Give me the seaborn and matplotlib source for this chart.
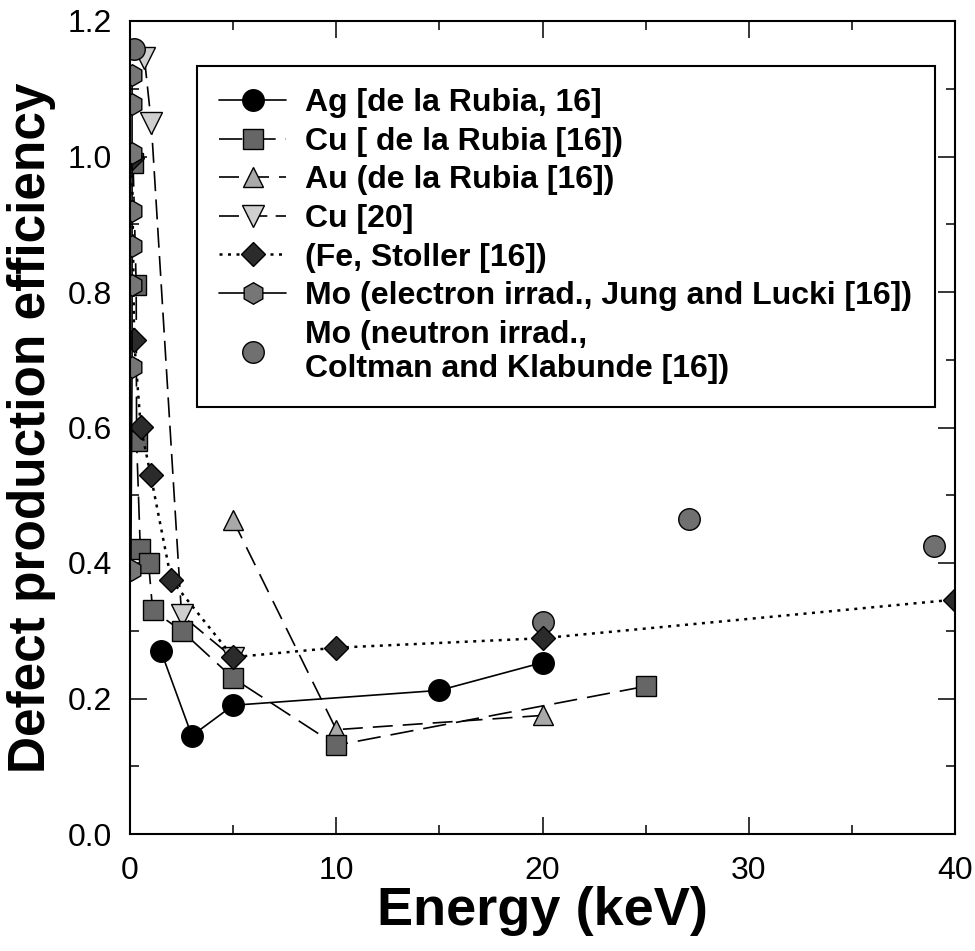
import matplotlib
matplotlib.use("Agg")
import matplotlib.pyplot as plt
from matplotlib.ticker import MultipleLocator
import seaborn as sns
import pandas as pd

# ---- data ----
ag_x = [1.5, 3.0, 5.0, 15.0, 20.0]
ag_y = [0.27, 0.145, 0.19, 0.212, 0.253]

cu_x = [0.15, 0.30, 0.32, 0.50, 0.90, 1.10, 2.5, 5.0, 10.0, 25.0]
cu_y = [0.99, 0.81, 0.58, 0.42, 0.40, 0.33, 0.30, 0.23, 0.131, 0.218]

au_x = [5.0, 10.0, 20.0]
au_y = [0.463, 0.154, 0.175]

cu20_x = [0.70, 1.03, 2.5, 5.0]
cu20_y = [1.145, 1.05, 0.323, 0.26]

fe_x = [0.10, 0.20, 0.52, 1.0, 2.0, 5.0, 10.0, 20.0, 40.0]
fe_y = [0.998, 0.729, 0.601, 0.530, 0.375, 0.261, 0.275, 0.289, 0.346]

moe_x = [0.10, 0.10, 0.10, 0.10, 0.10, 0.10, 0.10, 0.04]
moe_y = [1.120, 1.078, 1.005, 0.919, 0.868, 0.811, 0.690, 0.390]

mon_x = [0.19, 20.0, 27.1, 39.0]
mon_y = [1.158, 0.313, 0.465, 0.425]

labels = [
    "Ag [de la Rubia, 16]",
    "Cu [ de la Rubia [16])",
    "Au (de la Rubia [16])",
    "Cu [20]",
    "(Fe, Stoller [16])",
    "Mo (electron irrad., Jung and Lucki [16])",
    "Mo (neutron irrad.,\nColtman and Klabunde [16])",
]
x_ticks = [0, 10, 20, 30, 40]
y_ticks = [0.0, 0.2, 0.4, 0.6, 0.8, 1.0, 1.2]

sns.set_style("ticks")
plt.rcParams["font.family"] = ["Liberation Sans", "DejaVu Sans"]
plt.rcParams["text.color"] = "black"
plt.rcParams["axes.labelcolor"] = "black"
plt.rcParams["xtick.color"] = "black"
plt.rcParams["ytick.color"] = "black"

fig = plt.figure(figsize=(9.75, 9.51), dpi=100)
ax = fig.add_axes([130 / 975, 117 / 951, 825 / 975, 813 / 951])

LW = 1.2
common = dict(sort=False, estimator=None, ax=ax, markeredgecolor="black",
              markeredgewidth=1.0, linewidth=LW, color="black")

def draw(x, y, label, **kw):
    df = pd.DataFrame({"x": x, "y": y})
    args = dict(common)
    args.update(kw)
    sns.lineplot(data=df, x="x", y="y", label=label, **args)
    return ax.get_lines()[-1]

h = {}
h[2] = draw(au_x, au_y, labels[2], marker="^", markersize=15,
            markerfacecolor="#a9a9a9", linestyle=(0, (12, 6)))
h[3] = draw(cu20_x, cu20_y, labels[3], marker="v", markersize=16,
            markerfacecolor="#cfcfcf", linestyle=(0, (12, 5)))
h[6] = draw(mon_x, mon_y, labels[6], marker="o", markersize=15.5,
            markerfacecolor="#707070", linestyle="none")
h[1] = draw(cu_x, cu_y, labels[1], marker="s", markersize=14,
            markerfacecolor="#666666", linestyle=(0, (14, 6)))
h[4] = draw(fe_x, fe_y, labels[4], marker="D", markersize=12.5,
            markerfacecolor="#2b2b2b", linestyle=(0, (1.2, 2.2)), )
h[5] = draw(moe_x, moe_y, labels[5], marker="h", markersize=15.5,
            markerfacecolor="#767676", linestyle="-")
h[0] = draw(ag_x, ag_y, labels[0], marker="o", markersize=15.5,
            markerfacecolor="black", linestyle="-")

h[4].set_linewidth(1.8)

ax.set_xlim(0, 40)
ax.set_ylim(0, 1.2)
ax.set_xticks(x_ticks)
ax.set_yticks(y_ticks)
ax.set_xticklabels([str(v) for v in x_ticks])
ax.set_yticklabels([f"{v:.1f}" for v in y_ticks])
ax.xaxis.set_minor_locator(MultipleLocator(5))
ax.yaxis.set_minor_locator(MultipleLocator(0.1))
ax.tick_params(which="both", direction="in", top=True, right=True,
               width=1.1, colors="black", labelsize=23)
ax.tick_params(axis="x", which="major", length=12, pad=16)
ax.tick_params(axis="y", which="major", length=12, pad=13)
ax.tick_params(which="minor", length=6.5)
for s in ax.spines.values():
    s.set_visible(True)
    s.set_linewidth(1.5)
    s.set_color("black")

ax.set_xlabel("Energy (keV)", fontsize=39, fontweight="bold", labelpad=0,
              color="black")
ax.set_ylabel("Defect production efficiency", fontsize=37, fontweight="bold",
              labelpad=8, color="black")

leg = ax.legend([h[i] for i in range(7)], labels, loc="upper left",
                bbox_to_anchor=(0.081, 0.945), borderaxespad=0,
                prop={"weight": "bold", "size": 23}, frameon=True,
                fancybox=False, framealpha=1, edgecolor="black",
                handlelength=2.1, handletextpad=0.6, borderpad=0.7,
                labelspacing=0.27, numpoints=1, labelcolor="black")
leg.get_frame().set_linewidth(1.5)

fig.savefig("out.png", dpi=100, facecolor="white")
